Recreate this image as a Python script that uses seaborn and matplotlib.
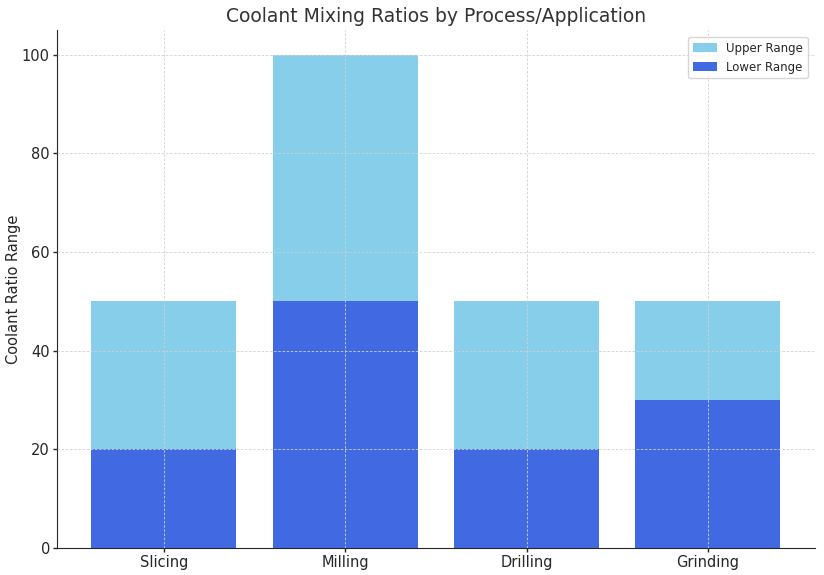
import matplotlib
matplotlib.use("Agg")
import matplotlib.pyplot as plt
import seaborn as sns
import pandas as pd

# values
processes = ["Slicing", "Milling", "Drilling", "Grinding"]
upper_range = [50, 100, 50, 50]
lower_range = [20, 50, 20, 30]

data = pd.DataFrame({
    "Process": processes,
    "Upper Range": upper_range,
    "Lower Range": lower_range,
})

sns.set_style("ticks")
plt.rcParams["font.family"] = ["DejaVu Sans"]

fig, ax = plt.subplots(figsize=(8.24, 5.75), dpi=100)

sns.barplot(data=data, x="Process", y="Upper Range", color="skyblue",
            label="Upper Range", width=0.8, saturation=1, linewidth=0, ax=ax, zorder=2)
sns.barplot(data=data, x="Process", y="Lower Range", color="royalblue",
            label="Lower Range", width=0.8, saturation=1, linewidth=0, ax=ax, zorder=2)

ax.set_title("Coolant Mixing Ratios by Process/Application", fontsize=13.5, color="#333333")
ax.set_xlabel("")
ax.set_ylabel("Coolant Ratio Range", fontsize=10.5)
ax.yaxis.set_label_coords(-0.047, 0.5)
ax.set_ylim(0, 105)
ax.set_xlim(-0.59, 3.59)
ax.tick_params(labelsize=10.5, length=3, width=1, pad=2)
ax.set_axisbelow(False)
ax.grid(True, linestyle="--", color="#d0d0d0", linewidth=0.6, dashes=(3, 2))
sns.despine(ax=ax)
ax.legend(loc="upper right", fontsize=8.5, borderaxespad=0.6)

fig.subplots_adjust(left=0.069, right=0.989, top=0.948, bottom=0.047)
plt.savefig("out.png", dpi=100)
